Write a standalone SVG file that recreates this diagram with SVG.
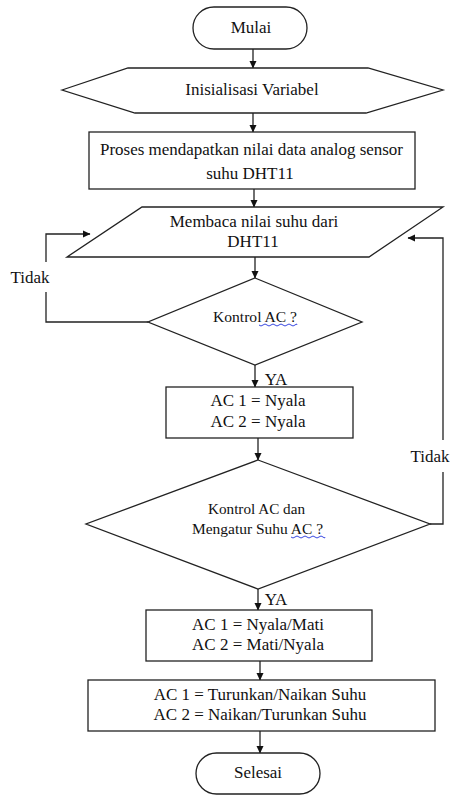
<svg xmlns="http://www.w3.org/2000/svg" width="450" height="796" viewBox="0 0 450 796">
<defs>
<marker id="ah" markerWidth="8" markerHeight="8" refX="7" refY="4" orient="auto" markerUnits="userSpaceOnUse">
<path d="M0,0.5 L7.5,4 L0,7.5 Z" fill="#111"/>
</marker>
</defs>
<style>
.s{fill:#fff;stroke:#222;stroke-width:1.3}
.t{font-family:"Liberation Serif","Times New Roman",serif;font-size:17px;fill:#111;text-anchor:middle}
.ts{font-family:"Liberation Serif","Times New Roman",serif;font-size:14px;fill:#111;text-anchor:middle}
.c{fill:none;stroke:#222;stroke-width:1.3}
.a{marker-end:url(#ah)}
.q{fill:none;stroke:#2233dd;stroke-width:0.9}
</style>
<rect width="450" height="796" fill="#fff"/>
<g id="connectors">
<line class="c a" x1="253" y1="49" x2="253" y2="68"/>
<line class="c a" x1="253" y1="113" x2="253" y2="132"/>
<line class="c a" x1="254" y1="189" x2="254" y2="207"/>
<line class="c a" x1="255" y1="257" x2="255" y2="278"/>
<line class="c a" x1="255" y1="365" x2="255" y2="387"/>
<line class="c a" x1="258" y1="438" x2="258" y2="460"/>
<line class="c a" x1="258" y1="589" x2="258" y2="610"/>
<line class="c a" x1="260" y1="661" x2="260" y2="680"/>
<line class="c a" x1="260" y1="731" x2="260" y2="753"/>
<polyline class="c" points="148,322 46,322 46,292"/>
<polyline class="c a" points="46,262 46,234 90,234"/>
<polyline class="c" points="430,524 443,524 443,472"/>
<polyline class="c a" points="443,440 443,238 408,238"/>
<text class="t" x="30" y="283">Tidak</text>
<text class="t" x="430" y="462">Tidak</text>
<text class="t" x="276" y="385">YA</text>
<text class="t" x="276" y="605">YA</text>
</g>
<g id="mulai">
<rect class="s" x="193" y="7" width="114" height="42" rx="21"/>
<text class="t" x="251" y="33">Mulai</text>
</g>
<g id="inisialisasi">
<polygon class="s" points="62,90 128,68 368,68 443,90 366,113 135,113"/>
<text class="t" x="252" y="95">Inisialisasi Variabel</text>
</g>
<g id="proses">
<rect class="s" x="89" y="132" width="326" height="57"/>
<text class="t" x="251.5" y="155" textLength="303" lengthAdjust="spacingAndGlyphs">Proses mendapatkan nilai data analog sensor</text>
<text class="t" x="250" y="179">suhu DHT11</text>
</g>
<g id="membaca">
<polygon class="s" points="142,207 443,207 369,257 67,257"/>
<text class="t" x="254" y="227">Membaca nilai suhu dari</text>
<text class="t" x="253" y="247">DHT11</text>
</g>
<g id="kontrol1">
<polygon class="s" points="255,278 362,322 255,365 148,322"/>
<text class="ts" x="255" y="322" textLength="84" lengthAdjust="spacingAndGlyphs">Kontrol AC ?</text>
<path class="q" d="M259,325 q2,2 4,0 q2,-2 4,0 q2,2 4,0 q2,-2 4,0 q2,2 4,0 q2,-2 4,0 q2,2 4,0 q2,-2 4,0 q2,2 4,0 q2,-2 2,0"/>
</g>
<g id="nyala">
<rect class="s" x="166" y="387" width="187" height="51"/>
<text class="t" x="258" y="406">AC 1 = Nyala</text>
<text class="t" x="258" y="427">AC 2 = Nyala</text>
</g>
<g id="kontrol2">
<polygon class="s" points="258,460 430,524 258,589 86,524"/>
<text class="ts" x="256.5" y="514" textLength="97" lengthAdjust="spacingAndGlyphs">Kontrol AC dan</text>
<text class="ts" x="257.5" y="534" textLength="131" lengthAdjust="spacingAndGlyphs">Mengatur Suhu AC ?</text>
<path class="q" d="M291,537 q2,2 4,0 q2,-2 4,0 q2,2 4,0 q2,-2 4,0 q2,2 4,0 q2,-2 4,0 q2,2 4,0 q2,-2 4,0 q2,2 2,0"/>
</g>
<g id="nyalamati">
<rect class="s" x="146" y="610" width="226" height="51"/>
<text class="t" x="258" y="630">AC 1 = Nyala/Mati</text>
<text class="t" x="258" y="650">AC 2 = Mati/Nyala</text>
</g>
<g id="suhu">
<rect class="s" x="88" y="680" width="347" height="51"/>
<text class="t" x="260" y="700">AC 1 = Turunkan/Naikan Suhu</text>
<text class="t" x="260" y="720">AC 2 = Naikan/Turunkan Suhu</text>
</g>
<g id="selesai">
<rect class="s" x="196" y="753" width="124" height="41" rx="20.5"/>
<text class="t" x="258" y="778">Selesai</text>
</g>
</svg>
